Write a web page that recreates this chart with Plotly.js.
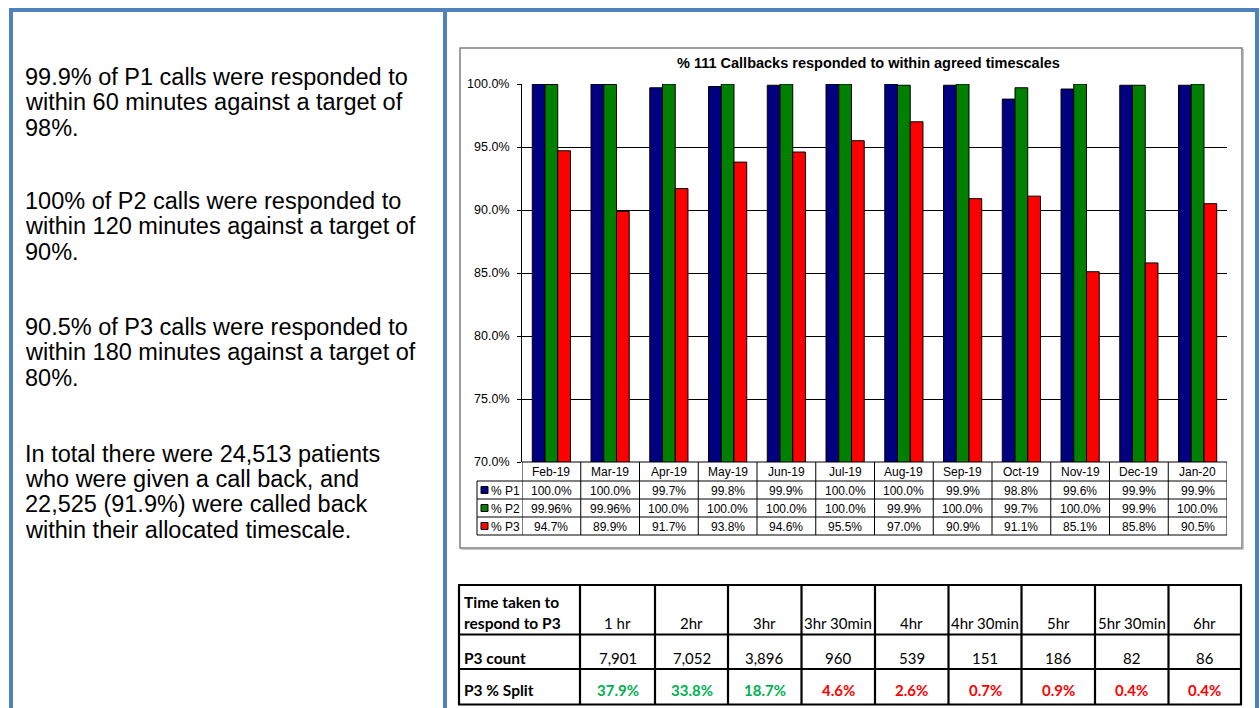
<!DOCTYPE html>
<html>
<head>
<meta charset="utf-8">
<script src="https://cdn.plot.ly/plotly-3.0.1.min.js"></script>
<style>
  html, body { margin: 0; padding: 0; background: #ffffff; }
  #chart { width: 1260px; height: 708px; }
</style>
</head>
<body>
<div id="chart"></div>
<script>
// Monthly callback performance
const months = ['Feb-19', 'Mar-19', 'Apr-19', 'May-19', 'Jun-19', 'Jul-19',
                'Aug-19', 'Sep-19', 'Oct-19', 'Nov-19', 'Dec-19', 'Jan-20'];
const pctP1 = [100.0, 100.0, 99.7, 99.8, 99.9, 100.0, 100.0, 99.9, 98.8, 99.6, 99.9, 99.9];
const pctP2 = [99.96, 99.96, 100.0, 100.0, 100.0, 100.0, 99.9, 100.0, 99.7, 100.0, 99.9, 100.0];
const pctP3 = [94.7, 89.9, 91.7, 93.8, 94.6, 95.5, 97.0, 90.9, 91.1, 85.1, 85.8, 90.5];
const seriesNames = ['% P1', '% P2', '% P3'];
const seriesColors = ['#000080', '#008000', '#ff0000'];

// P3 response time breakdown
const p3Bands = ['1 hr', '2hr', '3hr', '3hr 30min', '4hr', '4hr 30min', '5hr', '5hr 30min', '6hr'];
const p3Counts = [7901, 7052, 3896, 960, 539, 151, 186, 82, 86];
const p3Split = [37.9, 33.8, 18.7, 4.6, 2.6, 0.7, 0.9, 0.4, 0.4];

// Commentary paragraphs, one entry per line
const notes = [
  ['99.9% of P1 calls were responded to', 'within 60 minutes against a target of', '98%.'],
  ['100% of P2 calls were responded to', 'within 120 minutes against a target of', '90%.'],
  ['90.5% of P3 calls were responded to', 'within 180 minutes against a target of', '80%.'],
  ['In total there were 24,513 patients', 'who were given a call back, and',
   '22,525 (91.9%) were called back', 'within their allocated timescale.']
];

// ---- page geometry (pixels) ----
const W = 1260, H = 708;
const PL = 522, PR = 1227, PT = 84, PB = 462;   // plot area
const px = X => (X - PL) / (PR - PL);
const py = Y => (PB - Y) / (PB - PT);

const FONT = 'Arial, "Liberation Sans", sans-serif';
const TFONT = 'Lato, "Open Sans", sans-serif';
const BLUE = '#4f81bd';

function pctLabel(v) {
  const ten = v * 10;
  return (Math.abs(Math.round(ten) - ten) < 1e-9 ? v.toFixed(1) : v.toFixed(2)) + '%';
}

const series = [pctP1, pctP2, pctP3];
const traces = series.map((vals, i) => ({
  type: 'bar',
  x: months,
  y: vals,
  name: seriesNames[i],
  marker: { color: seriesColors[i], line: { color: '#000000', width: 1 } },
  hoverinfo: 'x+y+name'
}));

const shapes = [];
const annotations = [];

function line(x0, y0, x1, y1, color, width) {
  shapes.push({ type: 'line', xref: 'paper', yref: 'paper',
    x0: px(x0), x1: px(x1), y0: py(y0), y1: py(y1), line: { color: color, width: width } });
}
function text(str, X, Y, opts) {
  opts = opts || {};
  annotations.push({
    xref: opts.xref || 'paper', yref: 'paper',
    x: opts.xref === 'x' ? X : px(X), y: py(Y),
    text: str, showarrow: false,
    xanchor: opts.xanchor || 'center', yanchor: 'middle', align: 'left',
    font: { family: opts.family || FONT, size: opts.size || 12,
            color: opts.color || '#000000', weight: opts.weight || 'normal' }
  });
}

// ---- blue frame ----
line(9, 10, 1259, 10, BLUE, 4);
line(11, 8, 11, 708, BLUE, 4);
line(445, 10, 445, 708, BLUE, 4);
line(1257, 10, 1257, 708, BLUE, 4);

// ---- chart box ----
shapes.push({ type: 'rect', xref: 'paper', yref: 'paper',
  x0: px(460), x1: px(1242), y0: py(548), y1: py(48),
  line: { color: '#7f7f7f', width: 1.5 } });
line(461, 549.5, 1243.5, 549.5, '#c8c8c8', 1);
line(1243.5, 49, 1243.5, 549.5, '#c8c8c8', 1);

// chart title
text('% 111 Callbacks responded to within agreed timescales', 868, 63, { size: 14.5, weight: 'bold' });

// ---- data table under the chart ----
const rowY = [462, 481, 499, 517, 535];
line(PL, rowY[0], PR, rowY[0], '#000000', 1);
for (let r = 1; r < rowY.length; r++) line(477, rowY[r], PR, rowY[r], '#000000', 1);
line(477, rowY[1], 477, rowY[4], '#000000', 1);
for (let k = 0; k <= months.length; k++) {
  shapes.push({ type: 'line', xref: 'x', yref: 'paper', x0: k - 0.5, x1: k - 0.5,
    y0: py(rowY[0]), y1: py(rowY[4]), line: { color: '#000000', width: 1 } });
}
months.forEach((m, k) => text(m, k, (rowY[0] + rowY[1]) / 2 + 0.5, { xref: 'x' }));
series.forEach((vals, i) => {
  const yc = (rowY[i + 1] + rowY[i + 2]) / 2;
  shapes.push({ type: 'rect', xref: 'paper', yref: 'paper',
    x0: px(481), x1: px(488), y0: py(yc + 3.5), y1: py(yc - 3.5),
    fillcolor: seriesColors[i], line: { color: '#000000', width: 1 } });
  text(seriesNames[i], 489, yc + 0.5, { xanchor: 'left' });
  vals.forEach((v, k) => text(pctLabel(v), k, yc + 0.5, { xref: 'x' }));
});

// ---- commentary ----
const noteTop = [76, 200, 326, 453];
notes.forEach((lines, i) => lines.forEach((t, j) =>
  text(t, 23, noteTop[i] + 0.5 + j * 25.5, { xanchor: 'left', size: 23.5 })));

// ---- P3 response time table ----
const colX = [459, 580, 655, 728, 801.5, 875, 948.5, 1021.5, 1095, 1168.5, 1241];
const tRowY = [585, 634.5, 669, 704.5];
tRowY.forEach(y => line(colX[0] - 1, y, colX[colX.length - 1] + 1, y, '#000000', 2.2));
colX.forEach(x => line(x, tRowY[0], x, tRowY[3], '#000000', 2.2));
const hdr = { xanchor: 'left', family: TFONT, size: 15.5, weight: 'bold' };
text('Time taken to', 462, 601.5, hdr);
text('respond to P3', 462, 622.5, hdr);
text('P3 count', 462, 658, hdr);
text('P3 % Split', 462, 690, hdr);
p3Bands.forEach((b, j) => {
  const xc = (colX[j + 1] + colX[j + 2]) / 2;
  text(b, xc, 622.5, { family: TFONT, size: 15 });
  text(p3Counts[j].toLocaleString('en-GB'), xc, 658, { family: TFONT, size: 15 });
  text(p3Split[j].toFixed(1) + '%', xc, 690, { family: TFONT, size: 15, weight: 'bold',
    color: p3Split[j] >= 10 ? '#00b050' : '#ff0000' });
});

const layout = {
  width: W, height: H,
  margin: { l: PL, r: W - PR, t: PT, b: H - PB, pad: 0 },
  paper_bgcolor: '#ffffff', plot_bgcolor: '#ffffff',
  showlegend: false,
  barmode: 'group', bargap: 0.35, bargroupgap: 0,
  font: { family: FONT, size: 12, color: '#000000' },
  xaxis: { type: 'category', range: [-0.5, months.length - 0.5],
    showticklabels: false, showgrid: false, zeroline: false, showline: false, ticks: '' },
  yaxis: { range: [70, 100], dtick: 5, tick0: 70, tickformat: '.1f', ticksuffix: '%',
    showgrid: true, gridcolor: '#000000', gridwidth: 1, zeroline: false,
    showline: true, linecolor: '#000000', linewidth: 1,
    ticks: 'outside', ticklen: 4, tickcolor: '#000000', ticklabelstandoff: 5,
    tickfont: { family: FONT, size: 12.5, color: '#000000' } },
  shapes: shapes,
  annotations: annotations
};

Plotly.newPlot('chart', traces, layout, { displayModeBar: false, staticPlot: true });
</script>
</body>
</html>
